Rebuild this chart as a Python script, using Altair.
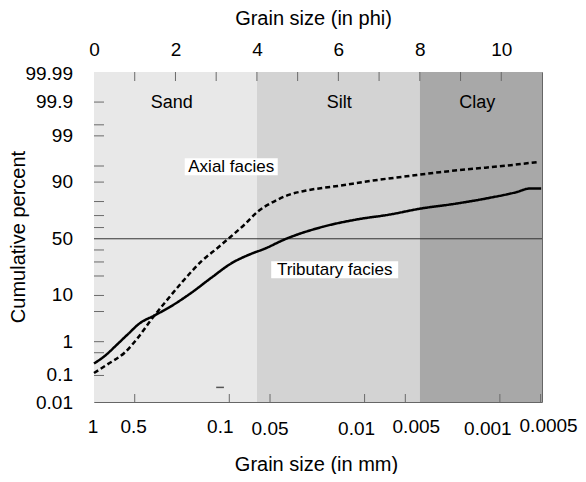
import math
import altair as alt
import pandas as pd

# ---------------- data ----------------
# grain size in phi (top axis); mm = 2**-phi
trib_phi = [0.00, 0.26, 0.59, 0.83, 1.12, 1.49, 1.90, 2.39, 2.88, 3.37, 3.86, 4.19,
            4.68, 5.62, 6.44, 7.26, 7.99, 8.90, 9.72, 10.37, 10.70, 10.98]
trib_pct = [0.24, 0.40, 0.89, 1.54, 2.79, 4.17, 6.41, 11.1, 18.9, 28.9, 36.7, 41.1,
            49.4, 60.7, 66.8, 70.8, 75.1, 78.7, 82.3, 85.4, 87.2, 87.2]
axial_phi = [0.00, 0.34, 0.75, 1.08, 1.41, 1.74, 2.15, 2.64, 3.04, 3.37, 3.70, 4.03,
             4.36, 4.80, 5.21, 6.03, 6.85, 7.67, 8.49, 9.30, 10.13, 10.94]
axial_pct = [0.12, 0.23, 0.50, 1.27, 3.42, 7.43, 16.0, 30.6, 42.0, 52.3, 62.7, 73.3,
             79.2, 84.1, 86.2, 88.5, 90.6, 92.1, 93.4, 94.3, 95.1, 95.9]

region_names = ["Sand", "Silt", "Clay"]
region_start = [0, 4, 8]
region_end = [4, 8, 11]
region_label_phi = [1.91, 6.02, 9.41]
region_colors = ["#e8e8e8", "#d3d3d3", "#a8a8a8"]

phi_ticks_labeled = [0, 2, 4, 6, 8, 10]
phi_ticks_minor = [1, 2, 3, 4, 5, 6, 7, 8, 9, 10]
mm_ticks = [1, 0.5, 0.1, 0.05, 0.01, 0.005, 0.001, 0.0005]
mm_label_dx = [-1, -1, -9, 0, -8, 11, -12, 8]     # px nudges of the mm labels
mm_label_dy = [0, 0, 0, 2, 2, 0, 2, -1]
pct_labeled = [0.01, 0.1, 1, 10, 50, 90, 99, 99.9, 99.99]
pct_minor = [0.1, 0.5, 1, 5, 10, 20, 30, 40, 60, 70, 80, 90, 95, 99, 99.5, 99.9]

annot_text = ["Axial facies", "Tributary facies"]
annot_phi = [3.37, 5.91]
annot_pct = [94.8, 24.2]
annot_box_w = [93, 127]   # label box widths in px

artifact_phi = [3.0, 3.19]
artifact_pct = [0.039]

# ---------------- tables ----------------
mm_phi = [-math.log2(v) for v in mm_ticks]

lines_df = pd.DataFrame({
    "series": ["Tributary"] * len(trib_phi) + ["Axial"] * len(axial_phi),
    "phi": trib_phi + axial_phi,
    "pct": trib_pct + axial_pct,
})
reg_df = pd.DataFrame({"region": region_names, "start": region_start,
                       "end": region_end, "lphi": region_label_phi})
annot_df = pd.DataFrame({"text": annot_text, "phi": annot_phi, "pct": annot_pct,
                         "w": annot_box_w})
mm_df = pd.DataFrame({"phi": mm_phi, "label": [f"{v:g}" for v in mm_ticks],
                      "dx": mm_label_dx, "dy": mm_label_dy})
pct_df = pd.DataFrame({"pct": pct_labeled, "label": [f"{v:g}" for v in pct_labeled]})

W, H = 448, 330
XDOM = [0, 11]
YDOM = [-3.69, 3.77]
PX_PER_PHI = W / (XDOM[1] - XDOM[0])
PX_PER_Z = H / (YDOM[1] - YDOM[0])
BOX_H = 17
LABEL_SIZE = 19
TITLE_SIZE = 20

FONT = "Liberation Sans"
xs = alt.Scale(domain=XDOM, nice=False, zero=False)
ys = alt.Scale(domain=YDOM, nice=False, zero=False)
zcalc = "quantileNormal(datum.pct / 100)"

top_axis = alt.Axis(orient="top", values=phi_ticks_labeled, title="Grain size (in phi)",
                    ticks=False, domain=False, grid=False, labelPadding=13,
                    labelFlush=False, labelOverlap=False,
                    titleX=219, titleY=-48, titleBaseline="alphabetic", titleAlign="center")
bottom_axis = alt.Axis(orient="bottom", title="Grain size (in mm)", labels=False,
                       ticks=False, domain=False, grid=False, tickCount=2,
                       titleX=222, titleY=68, titleBaseline="alphabetic", titleAlign="center")

regions = alt.Chart(reg_df).mark_rect().encode(
    x=alt.X("start:Q", scale=xs, axis=top_axis),
    x2="end:Q",
    y=alt.value(0), y2=alt.value(H),
    color=alt.Color("region:N", scale=alt.Scale(domain=region_names, range=region_colors),
                    legend=None),
)
region_text = alt.Chart(reg_df).mark_text(font=FONT, fontSize=18, color="black").encode(
    x=alt.X("lphi:Q", scale=xs, axis=None),
    y=alt.value(31),
    text="region:N",
)

fifty = alt.Chart(pd.DataFrame({"pct": [50]})).transform_calculate(z=zcalc).mark_rule(
    color="#333333", strokeWidth=1).encode(
    y=alt.Y("z:Q", scale=ys, axis=None), x=alt.value(0), x2=alt.value(W))

left_ticks = alt.Chart(pd.DataFrame({"pct": pct_minor})).transform_calculate(z=zcalc).mark_rule(
    color="#6a6a6a", strokeWidth=1).encode(
    y=alt.Y("z:Q", scale=ys, axis=None), x=alt.value(0), x2=alt.value(10))
top_ticks = alt.Chart(pd.DataFrame({"phi": phi_ticks_minor})).mark_rule(
    color="#6a6a6a", strokeWidth=1).encode(
    x=alt.X("phi:Q", scale=xs, axis=None), y=alt.value(0), y2=alt.value(9))
bottom_ticks = alt.Chart(pd.DataFrame({"phi": mm_phi[1:]})).mark_rule(
    color="#6a6a6a", strokeWidth=1).encode(
    x=alt.X("phi:Q", scale=xs, axis=None), y=alt.value(H), y2=alt.value(H - 8))

# y labels (probability scale) and y title
left_labels = alt.Chart(pct_df).transform_calculate(z=zcalc).mark_text(
    font=FONT, fontSize=LABEL_SIZE, color="black", align="right", baseline="middle",
    dx=-21).encode(
    x=alt.value(0),
    y=alt.Y("z:Q", scale=ys, axis=None),
    text="label:N",
)
y_title = alt.Chart(pd.DataFrame({"t": ["Cumulative percent"]})).mark_text(
    font=FONT, fontSize=TITLE_SIZE, color="black", angle=270, align="center",
    baseline="alphabetic").encode(
    x=alt.value(-69), y=alt.value(H / 2), text="t:N")

# x labels in mm
bottom_labels = alt.Chart(mm_df).transform_calculate(
    xl=f"datum.phi + datum.dx / {PX_PER_PHI}"
).mark_text(font=FONT, fontSize=LABEL_SIZE, color="black", baseline="middle").encode(
    x=alt.X("xl:Q", scale=xs, axis=None),
    y=alt.value(H + 25),
    yOffset=alt.YOffset("dy:Q", scale=None),
    text="label:N",
)

artifact = alt.Chart(pd.DataFrame({"phi": [artifact_phi[0]], "phi2": [artifact_phi[1]],
                                   "pct": artifact_pct})).transform_calculate(z=zcalc).mark_rule(
    color="#555555", strokeWidth=1.5).encode(
    x=alt.X("phi:Q", scale=xs, axis=None), x2="phi2:Q", y=alt.Y("z:Q", scale=ys, axis=None))

lines = alt.Chart(lines_df).transform_calculate(z=zcalc).mark_line(
    color="black", strokeWidth=2.5, interpolate="monotone").encode(
    x=alt.X("phi:Q", scale=xs, axis=bottom_axis),
    y=alt.Y("z:Q", scale=ys, axis=None),
    strokeDash=alt.StrokeDash("series:N", scale=alt.Scale(domain=["Axial", "Tributary"],
                                                          range=[[5, 3], [1, 0]]), legend=None),
    order="phi:Q",
)

annot_box = alt.Chart(annot_df).transform_calculate(
    z=zcalc,
    x0=f"datum.phi - datum.w / 2 / {PX_PER_PHI}",
    x1=f"datum.phi + datum.w / 2 / {PX_PER_PHI}",
).transform_calculate(
    y0=f"datum.z - {BOX_H / 2 / PX_PER_Z}",
    y1=f"datum.z + {BOX_H / 2 / PX_PER_Z}",
).mark_rect(color="white").encode(
    x=alt.X("x0:Q", scale=xs, axis=None), x2="x1:Q",
    y=alt.Y("y0:Q", scale=ys, axis=None), y2="y1:Q",
)
annot_txt = alt.Chart(annot_df).transform_calculate(z=zcalc).mark_text(
    font=FONT, fontSize=17, color="black").encode(
    x=alt.X("phi:Q", scale=xs, axis=None),
    y=alt.Y("z:Q", scale=ys, axis=None),
    text="text:N",
)

chart = alt.layer(
    regions, region_text, fifty, left_ticks, top_ticks, bottom_ticks, artifact,
    lines, annot_box, annot_txt, left_labels, y_title, bottom_labels,
).resolve_axis(x="independent").properties(
    width=W, height=H,
    autosize=alt.AutoSizeParams(type="none"),
    padding={"left": 86, "top": 64, "right": 36, "bottom": 72},
).configure_view(stroke="#666666", strokeWidth=1).configure_axis(
    labelFont=FONT, titleFont=FONT, labelFontSize=LABEL_SIZE, titleFontSize=TITLE_SIZE,
    labelColor="black", titleColor="black", titleFontWeight="normal",
)

chart.save("out.html", embed_options={"renderer": "svg", "actions": False})
